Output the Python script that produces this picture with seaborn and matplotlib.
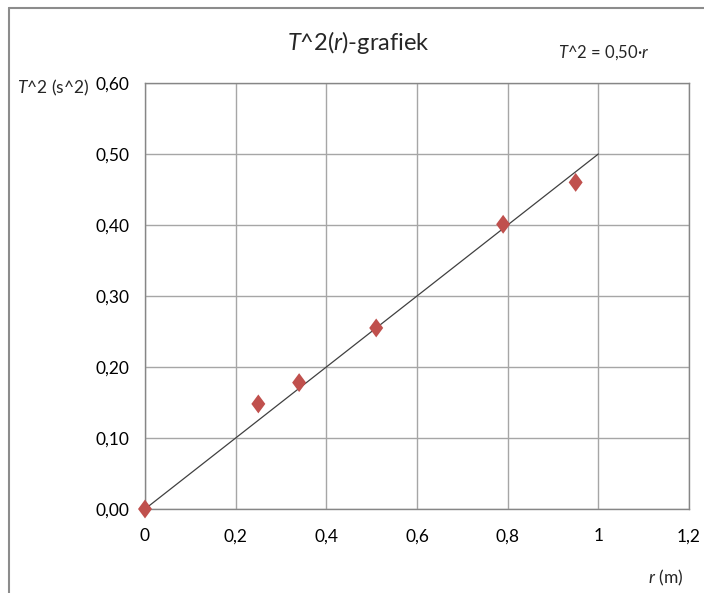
import matplotlib
matplotlib.use("Agg")
import matplotlib.pyplot as plt
from matplotlib.lines import Line2D
from matplotlib.ticker import FuncFormatter, MultipleLocator
import pandas as pd
import seaborn as sns

# measured points
r_values = [0.0, 0.25, 0.34, 0.51, 0.79, 0.95]
T2_values = [0.0, 0.148, 0.178, 0.255, 0.401, 0.460]

# trend line T^2 = 0,50*r
fit_r = [0.0, 1.0]
fit_T2 = [0.0, 0.5]

df = pd.DataFrame({"r": r_values, "T2": T2_values})
fit_df = pd.DataFrame({"r": fit_r, "T2": fit_T2})

sns.set_style("white")
plt.rcParams["font.family"] = ["Lato", "DejaVu Sans"]
plt.rcParams["mathtext.fontset"] = "custom"
plt.rcParams["mathtext.rm"] = "Lato"
plt.rcParams["mathtext.it"] = "Lato:italic"

# slightly tall diamond like the spreadsheet marker
diamond = [(0, 1), (0.74, 0), (0, -1), (-0.74, 0), (0, 1)]

fig = plt.figure(figsize=(7.04, 5.93), dpi=100)
ax = fig.add_axes([145 / 704, 1 - 509 / 593, 544 / 704, 426 / 593])

sns.lineplot(data=fit_df, x="r", y="T2", ax=ax, color="#404040", linewidth=0.9)
sns.scatterplot(data=df, x="r", y="T2", ax=ax, marker=diamond, s=185,
                color="#C0504D", edgecolor="none", zorder=5, clip_on=False)

ax.set_xlim(0, 1.2)
ax.set_ylim(0, 0.6)
ax.xaxis.set_major_locator(MultipleLocator(0.2))
ax.yaxis.set_major_locator(MultipleLocator(0.1))
ax.xaxis.set_major_formatter(FuncFormatter(lambda v, p: f"{v:g}".replace(".", ",")))
ax.yaxis.set_major_formatter(FuncFormatter(lambda v, p: f"{v:.2f}".replace(".", ",")))
ax.grid(True, color="#A6A6A6", linewidth=1.0)
ax.set_axisbelow(True)
for s in ax.spines.values():
    s.set_color("#868686")
    s.set_linewidth(1.0)
ax.tick_params(length=0, labelsize=12.5, colors="#000000", pad=11)
ax.tick_params(axis="x", pad=14)
ax.set_xlabel("")
ax.set_ylabel("")

fig.text(358 / 704, 1 - 42 / 593, "$T$^2($r$)-grafiek", ha="center", va="center", fontsize=17)
fig.text(604 / 704, 1 - 53 / 593, "$T$^2 = 0,50·$r$", ha="center", va="center", fontsize=12)
fig.text(53 / 704, 1 - 88 / 593, "$T$^2 (s^2)", ha="center", va="center", fontsize=12.5)
fig.text(666 / 704, 1 - 578 / 593, "$r$ (m)", ha="center", va="center", fontsize=12.5)

# outer chart frame
fig.add_artist(Line2D([9 / 704, 9 / 704], [0, 1 - 8 / 593], transform=fig.transFigure,
                      color="#8C8C8C", linewidth=1.5))
fig.add_artist(Line2D([9 / 704, 1], [1 - 8 / 593, 1 - 8 / 593], transform=fig.transFigure,
                      color="#8C8C8C", linewidth=1.5))

fig.savefig("out.png", dpi=100)
